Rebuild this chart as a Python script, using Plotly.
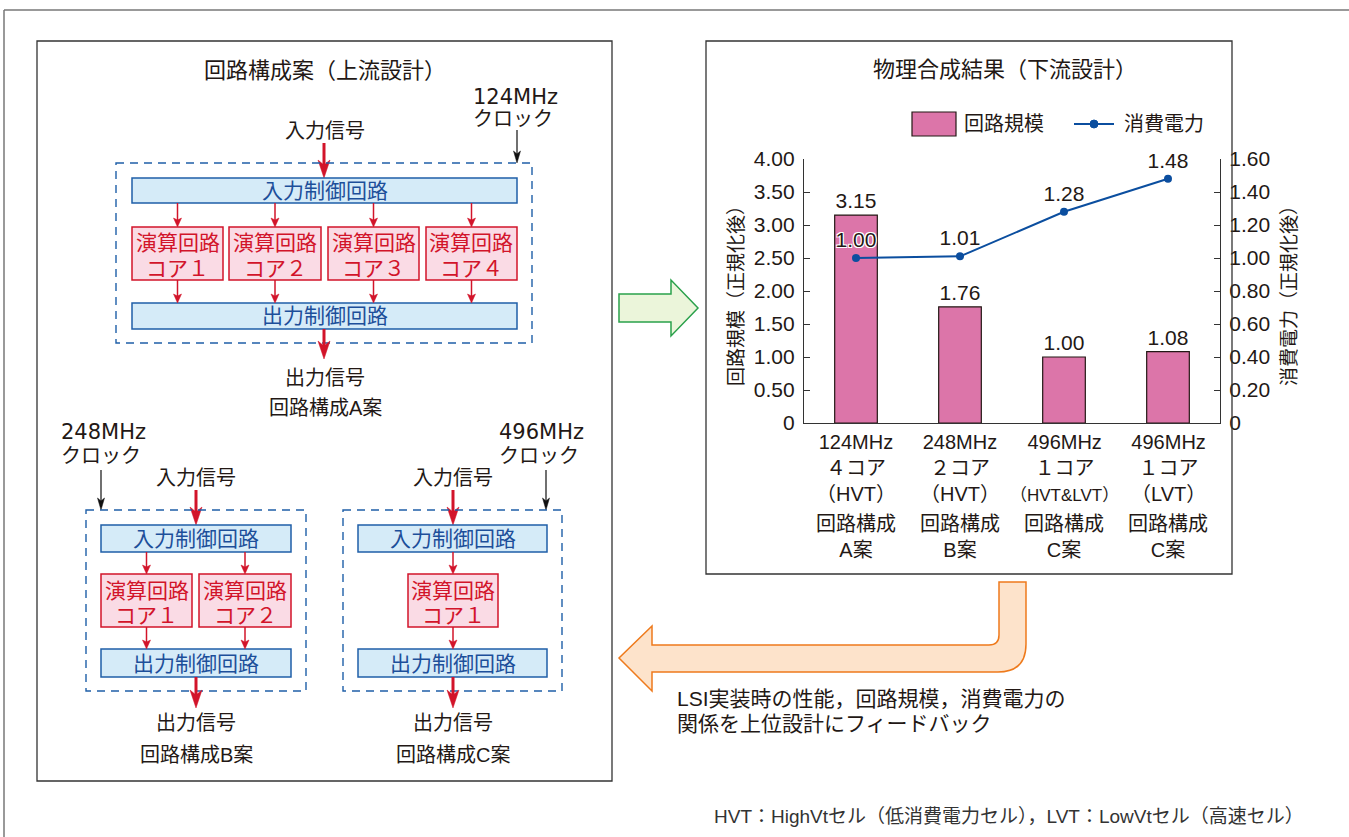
import plotly.graph_objects as go

# ---------------- data ----------------
freq_labels = ["124MHz", "248MHz", "496MHz", "496MHz"]
core_labels = ["４コア", "２コア", "１コア", "１コア"]
cell_labels = ["（HVT）", "（HVT）", "<span style='font-size:17px'>（HVT&LVT）</span>", "（LVT）"]
config_labels = ["回路構成<br>A案", "回路構成<br>B案", "回路構成<br>C案", "回路構成<br>C案"]
circuit_scale = [3.15, 1.76, 1.00, 1.08]
power = [1.00, 1.01, 1.28, 1.48]
left_ticks = [0, 0.5, 1.0, 1.5, 2.0, 2.5, 3.0, 3.5, 4.0]
left_ticktext = ["0", "0.50", "1.00", "1.50", "2.00", "2.50", "3.00", "3.50", "4.00"]
right_ticks = [0, 0.2, 0.4, 0.6, 0.8, 1.0, 1.2, 1.4, 1.6]
right_ticktext = ["0", "0.20", "0.40", "0.60", "0.80", "1.00", "1.20", "1.40", "1.60"]

W, H = 1349, 837
FONT = "Liberation Sans, Noto Sans CJK JP"
WIDE = "DejaVu Sans, Noto Sans CJK JP"
TXT = "#231815"
BLUE_T = "#1d4f9a"
BLUE_L = "#1f5fa8"
BLUE_F = "#d5ebf8"
RED = "#d2142a"
RED_F = "#fadbe5"
PINK = "#dc75a9"
LINE_C = "#0b4e9f"


def X(p):
    return p / W


def Y(p):
    return 1 - p / H


shapes = []
annotations = []


def line(x0, y0, x1, y1, color, width, dash=None):
    d = dict(type="line", xref="paper", yref="paper", x0=X(x0), y0=Y(y0), x1=X(x1), y1=Y(y1),
             line=dict(color=color, width=width))
    if dash:
        d["line"]["dash"] = dash
    shapes.append(d)


def rect(x0, y0, x1, y1, fill, color, width, dash=None):
    d = dict(type="rect", xref="paper", yref="paper", x0=X(x0), y0=Y(y0), x1=X(x1), y1=Y(y1),
             fillcolor=fill, line=dict(color=color, width=width))
    if dash:
        d["line"]["dash"] = dash
    shapes.append(d)


def pstr(x, y):
    return f"{X(x):.6f},{Y(y):.6f}"


def poly(pts, fill, color, width):
    d = "M " + " L ".join(pstr(x, y) for x, y in pts) + " Z"
    shapes.append(dict(type="path", xref="paper", yref="paper", path=d, fillcolor=fill,
                       line=dict(color=color, width=width)))


def darrow(x, y0, y1, color, lw, hw, hl, notch):
    line(x, y0, x, y1 - hl + notch + 1, color, lw)
    poly([(x, y1), (x - hw / 2, y1 - hl), (x, y1 - hl + notch), (x + hw / 2, y1 - hl)], color, color, 0.5)


def txt(x, y, s, size, color=TXT, anchor="center", angle=0, family=FONT):
    annotations.append(dict(xref="paper", yref="paper", x=X(x), y=Y(y), text=s, showarrow=False,
                            xanchor=anchor, yanchor="middle", textangle=angle,
                            font=dict(family=family, size=size, color=color)))


# ---------------- frames ----------------
line(4, 837, 4, 10, "#777", 1.5)
line(4, 10, 1349, 10, "#777", 1.5)
rect(37, 41, 612, 781, "rgba(0,0,0,0)", "#333", 1.3)
rect(706, 41, 1232, 574, "rgba(0,0,0,0)", "#333", 1.3)

# ---------------- left panel ----------------
txt(325, 70, "回路構成案（上流設計）", 22)


def block_diagram(box, inp, cores, outp, core_nums, core_rows):
    rect(box[0], box[1], box[2], box[3], "rgba(0,0,0,0)", BLUE_L, 1.4, "8px,6px")
    rect(inp[0], inp[1], inp[2], inp[3], BLUE_F, BLUE_L, 1.5)
    txt((inp[0] + inp[2]) / 2, (inp[1] + inp[3]) / 2, "入力制御回路", 21, BLUE_T)
    rect(outp[0], outp[1], outp[2], outp[3], BLUE_F, BLUE_L, 1.5)
    txt((outp[0] + outp[2]) / 2, (outp[1] + outp[3]) / 2, "出力制御回路", 21, BLUE_T)
    cy0, cy1 = core_rows
    for (x0, x1), n in zip(cores, core_nums):
        rect(x0, cy0, x1, cy1, RED_F, RED, 1.5)
        mx = (x0 + x1) / 2
        txt(mx, cy0 + 16, "演算回路", 21, RED)
        txt(mx, cy0 + 41, "コア" + n, 21, RED)
        darrow(mx, inp[3], cy0, RED, 1.5, 8, 9, 2)
        darrow(mx, cy1, outp[1], RED, 1.5, 8, 9, 2)


# Configuration A
txt(471, 97, "124MHz", 21, anchor="left", family=WIDE)
txt(471, 119, "クロック", 20, anchor="left")
darrow(517, 130, 163, "#111", 1.2, 7, 12, 3)
txt(325, 131, "入力信号", 20)
darrow(324, 143, 178, RED, 3, 12, 18, 5)
block_diagram((116, 163, 532, 343), (132, 178, 517, 203),
              [(132, 223), (229, 321), (328, 419), (426, 517)], (132, 303, 517, 329),
              ["１", "２", "３", "４"], (227, 280))
darrow(324, 329, 359, RED, 3, 12, 18, 5)
txt(325, 378, "出力信号", 20)
txt(325, 408, "回路構成A案", 20)

# Configuration B
txt(59, 432, "248MHz", 21, anchor="left", family=WIDE)
txt(59, 456, "クロック", 20, anchor="left")
darrow(101, 470, 510, "#111", 1.2, 7, 12, 3)
txt(196, 478, "入力信号", 20)
darrow(196, 490, 525, RED, 3, 12, 18, 5)
block_diagram((86, 510, 306, 691), (101, 525, 291, 552),
              [(101, 192), (199, 291)], (101, 649, 291, 677), ["１", "２"], (574, 627))
darrow(196, 677, 708, RED, 3, 12, 18, 5)
txt(196, 723, "出力信号", 20)
txt(196, 755, "回路構成B案", 20)

# Configuration C
txt(497, 432, "496MHz", 21, anchor="left", family=WIDE)
txt(497, 456, "クロック", 20, anchor="left")
darrow(546, 470, 510, "#111", 1.2, 7, 12, 3)
txt(453, 478, "入力信号", 20)
darrow(453, 490, 525, RED, 3, 12, 18, 5)
block_diagram((343, 510, 562, 691), (358, 525, 547, 552),
              [(408, 498)], (358, 649, 547, 677), ["１"], (574, 627))
darrow(453, 677, 708, RED, 3, 12, 18, 5)
txt(453, 723, "出力信号", 20)
txt(453, 755, "回路構成C案", 20)

# ---------------- arrows between panels ----------------
poly([(619, 294), (671, 294), (671, 280), (698, 308), (671, 336), (671, 322), (619, 322)],
     "#ebf5da", "#2aa14b", 1.5)

orange = ("M " + pstr(999, 582) + " L " + pstr(1026, 582) + " L " + pstr(1026, 644) +
          " Q " + pstr(1026, 672) + " " + pstr(998, 672) +
          " L " + pstr(652, 672) + " L " + pstr(652, 691) + " L " + pstr(619, 658) +
          " L " + pstr(652, 626) + " L " + pstr(652, 645) + " L " + pstr(989, 645) +
          " Q " + pstr(999, 645) + " " + pstr(999, 635) + " Z")
shapes.append(dict(type="path", xref="paper", yref="paper", path=orange, fillcolor="#fde3cb",
                   line=dict(color="#ee7a1c", width=1.5)))

txt(675, 698, "LSI実装時の性能，回路規模，消費電力の", 21, anchor="left")
txt(675, 723, "関係を上位設計にフィードバック", 21, anchor="left")

txt(712, 816, "HVT：HighVtセル（低消費電力セル），LVT：LowVtセル（高速セル）", 19, "#333", anchor="left")

# ---------------- chart ----------------
txt(1005, 69, "物理合成結果（下流設計）", 22)
rect(912, 112, 956, 136, PINK, TXT, 1.2)
txt(962, 124, "回路規模", 20, anchor="left")
line(1074, 124, 1114, 124, LINE_C, 2)
shapes.append(dict(type="circle", xref="paper", yref="paper", x0=X(1090), x1=X(1098), y0=Y(128), y1=Y(120),
                   fillcolor=LINE_C, line=dict(color=LINE_C, width=1)))
txt(1122, 124, "消費電力", 20, anchor="left")

txt(736, 291, "回路規模（正規化後）", 19, angle=-90)
txt(1289, 291, "消費電力（正規化後）", 19, angle=-90)

xs = list(range(len(circuit_scale)))
for i in xs:
    annotations.append(dict(xref="x", yref="paper", x=i, y=Y(468), text=freq_labels[i] + "<br>" +
                            core_labels[i] + "<br>" + cell_labels[i], showarrow=False,
                            xanchor="center", yanchor="middle",
                            font=dict(family=FONT, size=20, color=TXT)))
    annotations.append(dict(xref="x", yref="paper", x=i, y=Y(537), text=config_labels[i], showarrow=False,
                            xanchor="center", yanchor="middle",
                            font=dict(family=FONT, size=20, color=TXT)))

fig = go.Figure()
fig.add_trace(go.Bar(x=xs, y=circuit_scale, width=0.41, marker=dict(color=PINK, line=dict(color=TXT, width=1.2)),
                     text=[f"{v:.2f}" for v in circuit_scale], textposition="outside", cliponaxis=False,
                     textfont=dict(family=FONT, size=21, color=TXT), showlegend=False, name="回路規模"))
fig.add_trace(go.Scatter(x=xs, y=power, yaxis="y2", mode="lines+markers+text",
                         line=dict(color=LINE_C, width=2), marker=dict(size=8, color=LINE_C),
                         text=[f"{v:.2f}" for v in power], textposition="top center", cliponaxis=False,
                         textfont=dict(family=FONT, size=21, color=TXT,
                                       shadow="1px 1px 0 #fff, -1px -1px 0 #fff, 1px -1px 0 #fff, -1px 1px 0 #fff"),
                         showlegend=False, name="消費電力"))

fig.update_layout(
    width=W, height=H, margin=dict(l=0, r=0, t=0, b=0, pad=0, autoexpand=False),
    paper_bgcolor="white", plot_bgcolor="white",
    font=dict(family=FONT, color=TXT),
    showlegend=False,
    xaxis=dict(domain=[X(804), X(1220)], range=[-0.5, 3.5], showticklabels=False, ticks="",
               automargin=False,
               showgrid=False, zeroline=False, showline=True, linecolor="#333", linewidth=1.3, fixedrange=True),
    yaxis=dict(domain=[Y(423), Y(159)], range=[0, 4], tickvals=left_ticks, ticktext=left_ticktext,
               automargin=False,
               ticks="inside", ticklen=6, tickcolor="#333", tickwidth=1.2, showgrid=False, zeroline=False,
               showline=True, linecolor="#333", linewidth=1.3, ticklabelstandoff=4,
               tickfont=dict(family=FONT, size=21, color=TXT)),
    yaxis2=dict(overlaying="y", side="right", anchor="x", range=[0, 1.6], tickvals=right_ticks,
                automargin=False,
                ticktext=right_ticktext, ticks="inside", ticklen=6, tickcolor="#333", tickwidth=1.2,
                showgrid=False, zeroline=False, showline=True, linecolor="#333", linewidth=1.3,
                ticklabelstandoff=4, tickfont=dict(family=FONT, size=21, color=TXT)),
    shapes=shapes, annotations=annotations,
)

fig.write_html("out.html")
